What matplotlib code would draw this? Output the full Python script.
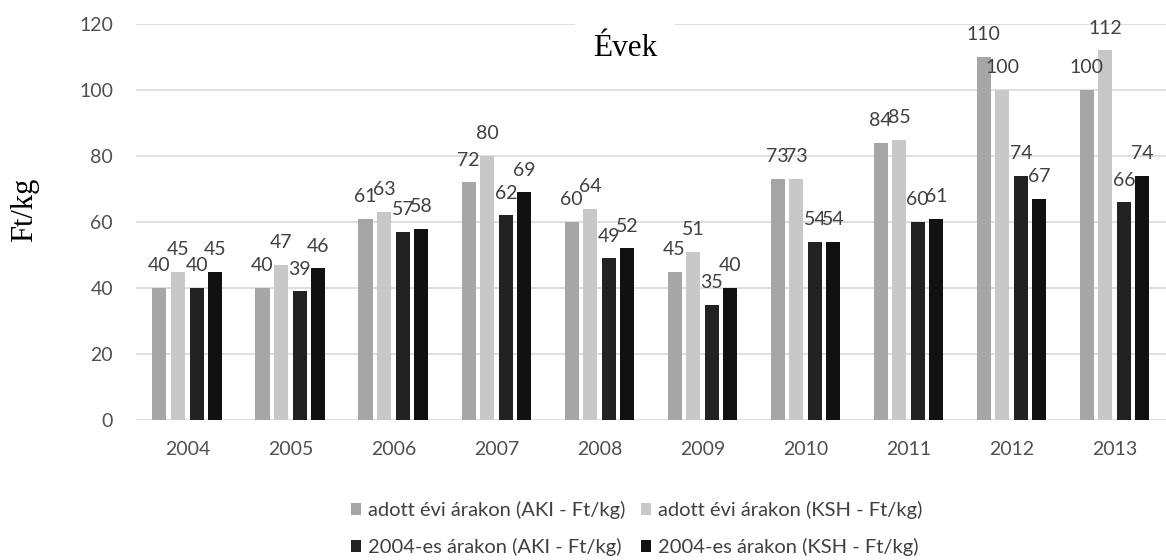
"""
Sertéshús ára 2004-2013: adott évi árakon és 2004-es árakon (AKI / KSH).
Excel-stílusú csoportos oszlopdiagram, négy sorozattal.
"""

import matplotlib
matplotlib.use("Agg")
import matplotlib.pyplot as plt
import numpy as np


# ----- adatok -----
YEARS = ["2004", "2005", "2006", "2007", "2008",
         "2009", "2010", "2011", "2012", "2013"]
AKI_CURRENT = [40, 40, 61, 72, 60, 45, 73, 84, 110, 100]
KSH_CURRENT = [45, 47, 63, 80, 64, 51, 73, 85, 100, 112]
AKI_2004 = [40, 39, 57, 62, 49, 35, 54, 60, 74, 66]
KSH_2004 = [45, 46, 58, 69, 52, 40, 54, 61, 67, 74]

SERIES_LABELS = [
    "adott évi árakon (AKI - Ft/kg)",
    "adott évi árakon (KSH - Ft/kg)",
    "2004-es árakon (AKI - Ft/kg)",
    "2004-es árakon (KSH - Ft/kg)",
]
COLORS = ["#a6a6a6", "#c8c8c8", "#222222", "#111111"]

Y_TICKS = [0, 20, 40, 60, 80, 100, 120]


def main():
    plt.rcParams["font.family"] = ["Lato", "DejaVu Sans"]

    fig = plt.figure(figsize=(11.66, 5.6), dpi=100)
    ax = fig.add_axes([0.1166, 0.25, 0.8834, 0.707])

    series = [AKI_CURRENT, KSH_CURRENT, AKI_2004, KSH_2004]
    x = np.arange(len(YEARS))
    width = 0.136
    pitch = 0.181
    offsets = (np.arange(4) - 1.5) * pitch

    handles = []
    for vals, off, col, lab in zip(series, offsets, COLORS, SERIES_LABELS):
        bars = ax.bar(x + off, vals, width, color=col, label=lab, zorder=2)
        handles.append(bars)
        for rect, v in zip(bars, vals):
            ax.annotate(str(v), (rect.get_x() + rect.get_width() / 2, v),
                        xytext=(0, 12), textcoords="offset points",
                        ha="center", va="baseline", fontsize=14,
                        color="#404040", zorder=3)

    ax.set_xlim(-0.5, len(YEARS) - 0.5)
    ax.set_ylim(0, 120)
    ax.set_yticks(Y_TICKS)
    ax.set_xticks(x)
    ax.set_xticklabels(YEARS)
    ax.tick_params(axis="both", length=0, labelsize=14,
                   labelcolor="#505050")
    ax.tick_params(axis="y", pad=16.5)
    ax.tick_params(axis="x", pad=15)
    ax.yaxis.grid(True, color="#d9d9d9", lw=1.2, zorder=0)
    ax.set_axisbelow(True)
    for s in ax.spines.values():
        s.set_visible(False)

    fig.text(0.021, 0.625, "Ft/kg", rotation=90, ha="center", va="center",
             fontsize=22, family="Liberation Serif", color="black")
    fig.text(0.536, 0.913, "Évek", ha="center", va="center",
             fontsize=22.5, family="Liberation Serif", color="black",
             bbox=dict(facecolor="white", edgecolor="none", pad=13))

    order = [0, 2, 1, 3]
    fig.legend([handles[i] for i in order],
               [SERIES_LABELS[i] for i in order],
               ncol=2, loc="center", bbox_to_anchor=(0.546, 0.056),
               frameon=False, fontsize=14.5, labelcolor="#404040",
               handlelength=0.5, handleheight=0.5, handletextpad=0.35,
               columnspacing=0.75, labelspacing=0.95)

    fig.savefig("out.png", dpi=100)


if __name__ == "__main__":
    main()
